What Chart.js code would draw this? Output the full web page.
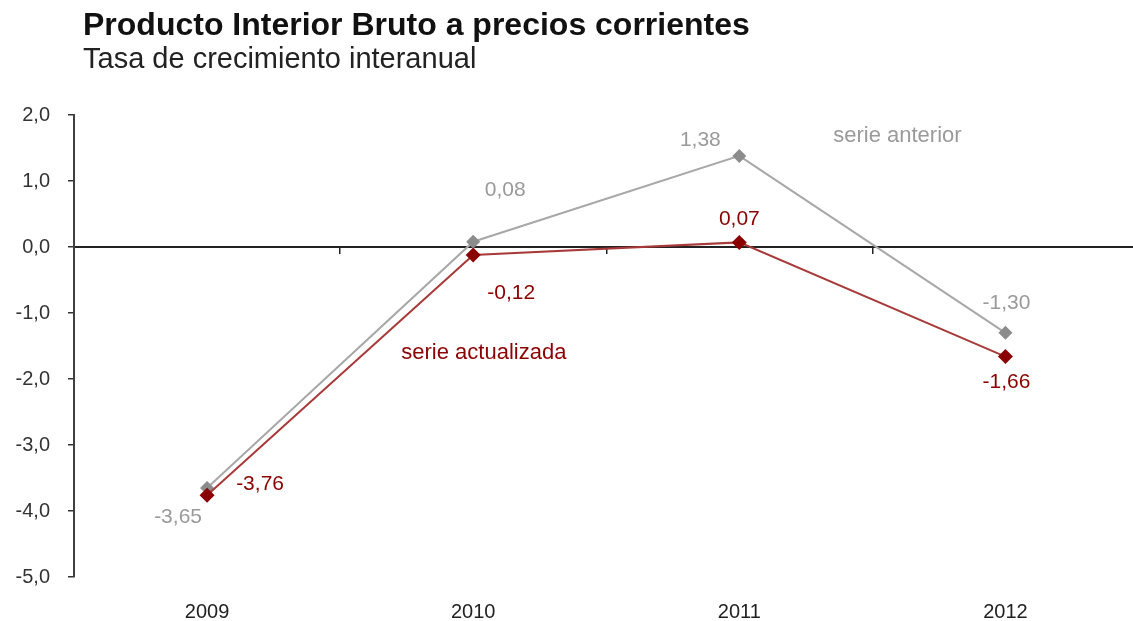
<!DOCTYPE html>
<html><head><meta charset="utf-8">
<script src="https://cdn.jsdelivr.net/npm/chart.js@4/dist/chart.umd.min.js"></script>
<style>
html,body{margin:0;padding:0;background:#fff;overflow:hidden;width:1133px;height:621px;}
#wrap{position:relative;width:1146px;height:621px;}
canvas{position:absolute;left:0;top:0;}
.t{position:absolute;left:83px;font-family:"Liberation Sans",Arial,sans-serif;line-height:1;white-space:nowrap;margin:0}
#title{top:8px;font-size:32px;font-weight:bold;color:#111}
#sub{top:44px;font-size:29px;color:#222}
</style></head>
<body><div id="wrap"><canvas id="c" width="1146" height="621"></canvas>
<div class="t" id="title">Producto Interior Bruto a precios corrientes</div>
<div class="t" id="sub">Tasa de crecimiento interanual</div></div>
<script>
// ---- data ----
const categories = ['2009', '2010', '2011', '2012'];
const serieAnterior = [-3.65, 0.08, 1.38, -1.30];
const serieActualizada = [-3.76, -0.12, 0.07, -1.66];
const yTickValues = [2, 1, 0, -1, -2, -3, -4, -5];
const seriesNames = ['serie anterior', 'serie actualizada'];

// ---- label placement (pixel offsets from each point) ----
const offsAnterior = [[-29, 29], [32, -52], [-39, -16], [1, -30]];
const offsActualizada = [[53, -11], [38, 38], [0, -23], [1, 26]];
// series-name notes placed in data coordinates (category index, value)
const notePos = [[2.594, 1.68], [1.04, -1.6]];

const FONT = '"Liberation Sans", Arial, sans-serif';
const GRAY_TXT = '#9a9a9a', RED_TXT = '#8b0000';
const fmt = v => v.toFixed(2).replace('.', ',');

const labelPlugin = {
  id: 'valueLabels',
  afterDatasetsDraw(chart) {
    const ctx = chart.ctx;
    ctx.save();
    ctx.textAlign = 'center';
    ctx.textBaseline = 'middle';
    chart.data.datasets.forEach((ds, i) => {
      const meta = chart.getDatasetMeta(i);
      ctx.font = '21px ' + FONT;
      ctx.fillStyle = ds.labelColor;
      meta.data.forEach((pt, j) => {
        const [dx, dy] = ds.labelOffsets[j];
        ctx.fillText(fmt(ds.data[j]), pt.x + dx, pt.y + dy);
      });
      const [nx, ny] = notePos[i];
      ctx.font = '22px ' + FONT;
      ctx.fillText(seriesNames[i], chart.scales.x.getPixelForValue(nx), chart.scales.y.getPixelForValue(ny));
    });
    ctx.restore();
  }
};

new Chart(document.getElementById('c'), {
  type: 'line',
  data: {
    labels: categories,
    datasets: [
      {
        label: seriesNames[0], data: serieAnterior, order: 1,
        borderColor: '#a8a8a8', borderWidth: 2,
        pointStyle: 'rectRot', pointRadius: 7, pointBackgroundColor: '#8c8c8c', pointBorderColor: '#8c8c8c', pointBorderWidth: 0,
        labelColor: GRAY_TXT, labelOffsets: offsAnterior
      },
      {
        label: seriesNames[1], data: serieActualizada, order: 0,
        borderColor: '#a83a3a', borderWidth: 2,
        pointStyle: 'rectRot', pointRadius: 7.5, pointBackgroundColor: '#8b0000', pointBorderColor: '#8b0000', pointBorderWidth: 0,
        labelColor: RED_TXT, labelOffsets: offsActualizada
      }
    ]
  },
  options: {
    responsive: false,
    animation: false,
    devicePixelRatio: 1,
    layout: { padding: { top: 115, right: 2, bottom: 0, left: 0 } },
    plugins: { legend: { display: false }, tooltip: { enabled: false } },
    elements: { line: { tension: 0 } },
    scales: {
      x: {
        type: 'category', position: 'bottom', offset: true,
        grid: { display: false }, border: { display: false },
        ticks: { color: '#222', font: { family: FONT, size: 20 }, padding: 15, maxRotation: 0 },
        afterFit: s => { s.height = 44; }
      },
      x0: {
        type: 'category', labels: categories, position: { y: 0 }, offset: true,
        grid: { offset: true, drawOnChartArea: false, drawTicks: true, tickLength: 6, color: '#222', lineWidth: 1.5 },
        border: { display: true, color: '#222', width: 2 },
        ticks: { display: false }
      },
      y: {
        type: 'linear', position: 'left', min: -5, max: 2,
        afterBuildTicks: s => { s.ticks = yTickValues.map(v => ({ value: v })); },
        grid: { drawOnChartArea: false, tickLength: 6, color: '#333', lineWidth: 1.5 },
        border: { display: true, color: '#404040', width: 2 },
        ticks: { color: '#333', font: { family: FONT, size: 20 }, padding: 18,
          callback: v => v.toFixed(1).replace('.', ',') },
        afterFit: s => { s.width = 74; }
      }
    }
  },
  plugins: [labelPlugin]
});
</script>
</body></html>
